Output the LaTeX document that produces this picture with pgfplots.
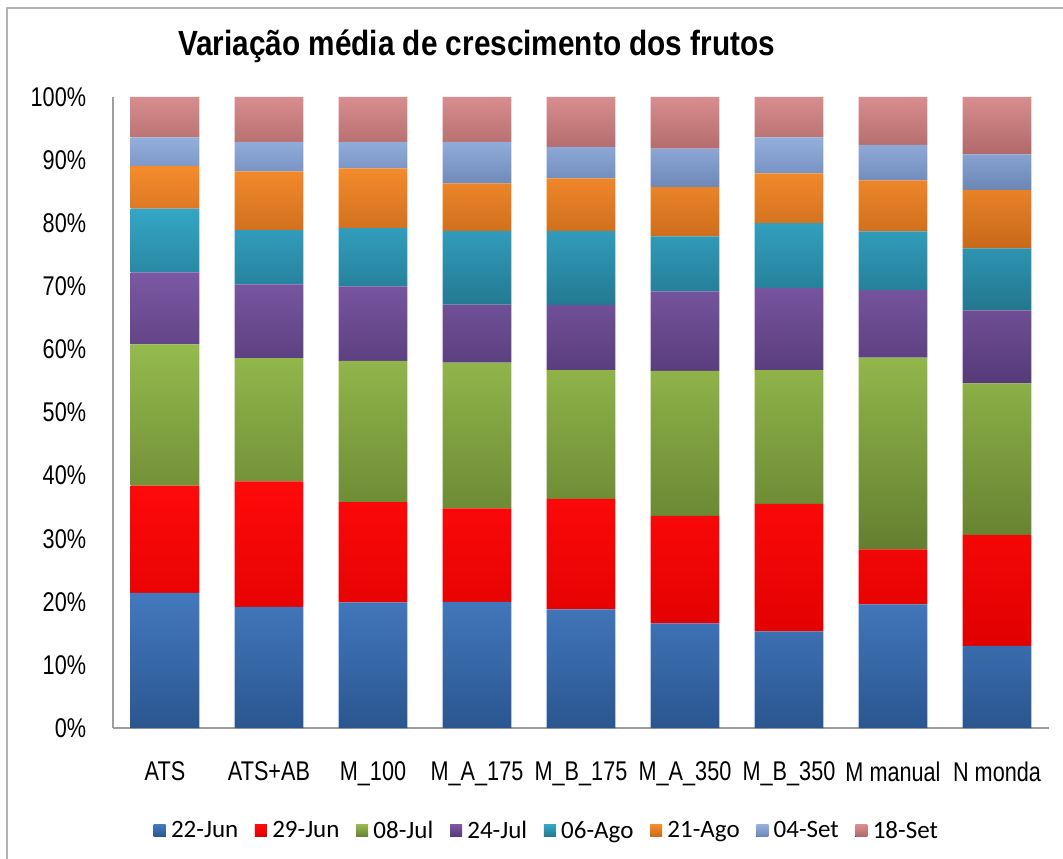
\documentclass[border=0pt]{standalone}
\usepackage{pgfplots}
\pgfplotsset{compat=1.18}
\usepackage{pgfplotstable}
\usepackage{fontspec}
\setmainfont[FakeStretch=0.8]{Liberation Sans}
\newfontfamily\titlefont[FakeStretch=0.85]{Liberation Sans Bold}
\newfontfamily\legfont{Carlito}

\definecolor{bluT}{HTML}{4379BE}\definecolor{bluB}{HTML}{2B5690}
\definecolor{redT}{HTML}{FF0A0A}\definecolor{redB}{HTML}{E00000}
\definecolor{grnT}{HTML}{95BA4C}\definecolor{grnB}{HTML}{647F30}
\definecolor{purT}{HTML}{7B58A4}\definecolor{purB}{HTML}{553A78}
\definecolor{tealT}{HTML}{34A6C6}\definecolor{tealB}{HTML}{23778F}
\definecolor{oraT}{HTML}{F58C2C}\definecolor{oraB}{HTML}{C7681A}
\definecolor{lbT}{HTML}{95AFDD}\definecolor{lbB}{HTML}{6B86B5}
\definecolor{pnkT}{HTML}{D88E8E}\definecolor{pnkB}{HTML}{B06868}

\pgfplotstableread{
x a b c d e f g h
0 21.4 17.0 22.4 11.4 10.1 6.8 4.5 6.4
1 19.2 19.9 19.5 11.7 8.6 9.3 4.7 7.1
2 19.9 15.9 22.4 11.8 9.2 9.5 4.2 7.1
3 20.0 14.8 23.1 9.2 11.7 7.5 6.6 7.1
4 18.8 17.5 20.4 10.3 11.8 8.3 5.0 7.9
5 16.6 17.0 23.0 12.6 8.7 7.8 6.1 8.2
6 15.3 20.2 21.2 13.0 10.3 7.9 5.7 6.4
7 19.6 8.7 30.4 10.7 9.3 8.1 5.6 7.6
8 13.0 17.6 24.0 11.6 9.8 9.3 5.6 9.1
}\data

\begin{document}
\begin{tikzpicture}
\useasboundingbox (0,0) rectangle (797.25pt,643.5pt);
\draw[gray!60, line width=0.9pt] (5.25pt,-10pt) -- (5.25pt,637.5pt) -- (810pt,637.5pt);
\node[font=\titlefont\fontsize{26.25}{30}\selectfont, inner sep=0pt] at (357.4pt,608.5pt) {Variação média de crescimento dos frutos};
\begin{axis}[
  at={(84.75pt,97.5pt)}, anchor=south west,
  scale only axis, width=702pt, height=473.25pt,
  ybar stacked, bar width=0.663,
  xmin=-0.5, xmax=8.5, ymin=0, ymax=100,
  axis x line*=bottom, axis y line*=left,
  axis line style={draw=gray!75, line width=0.9pt, -},
  major tick length=0pt,
  xtick=data,
  xticklabels={ATS,ATS+AB,M\_100,M\_A\_175,M\_B\_175,M\_A\_350,M\_B\_350,M manual,N monda},
  ytick={0,10,...,100},
  yticklabel={\pgfmathprintnumber{\tick}\%},
  /pgf/number format/assume math mode=true,
  tick label style={font=\fontsize{20.3}{22}\selectfont},
  yticklabel style={anchor=east, inner sep=0pt, xshift=-20pt},
  xticklabel style={anchor=north, inner sep=0pt, yshift=-25pt},
  legend columns=8,
  legend style={draw=none, fill=none, at={(0.4635,-0.163)}, anchor=center,
    font=\legfont\fontsize{18.75}{20}\selectfont,
    /tikz/every even column/.append style={column sep=11pt},
    nodes={inner sep=1.5pt}},
  legend image code/.code={\fill[#1] (0pt,-4.5pt) rectangle (9pt,4.5pt);\path (0pt,0pt) -- (11.5pt,0pt);},
]
\addplot[draw=none, top color=bluT, bottom color=bluB] table[x=x,y=a]{\data};
\addplot[draw=none, top color=redT, bottom color=redB] table[x=x,y=b]{\data};
\addplot[draw=none, top color=grnT, bottom color=grnB] table[x=x,y=c]{\data};
\addplot[draw=none, top color=purT, bottom color=purB] table[x=x,y=d]{\data};
\addplot[draw=none, top color=tealT, bottom color=tealB] table[x=x,y=e]{\data};
\addplot[draw=none, top color=oraT, bottom color=oraB] table[x=x,y=f]{\data};
\addplot[draw=none, top color=lbT, bottom color=lbB] table[x=x,y=g]{\data};
\addplot[draw=none, top color=pnkT, bottom color=pnkB] table[x=x,y=h]{\data};
\legend{22-Jun,29-Jun,08-Jul,24-Jul,06-Ago,21-Ago,04-Set,18-Set}
\end{axis}
\end{tikzpicture}
\end{document}
